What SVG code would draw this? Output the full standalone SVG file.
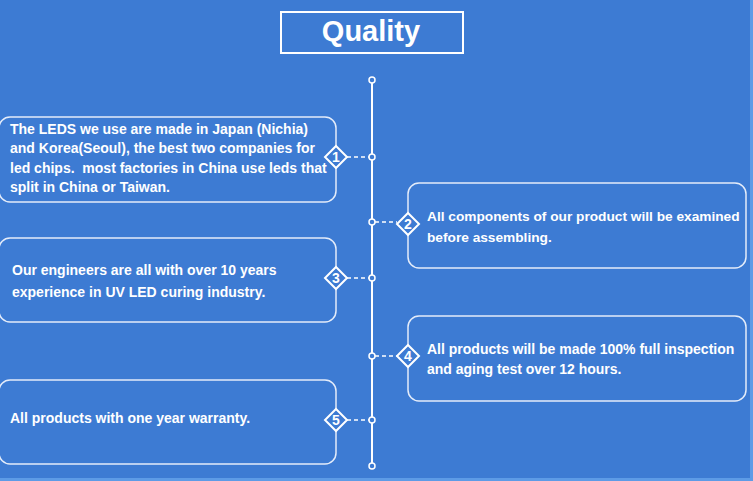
<svg xmlns="http://www.w3.org/2000/svg" width="753" height="481" viewBox="0 0 753 481">
<style>
.t{font-family:"Liberation Sans",Arial,sans-serif;font-weight:bold;fill:#fff;font-size:14px}
.box{fill:none;stroke:#e4ecfa;stroke-width:1.5}
.dm{fill:#3d7bd3;stroke:#fff;stroke-width:2}
.n{font-family:"Liberation Sans",Arial,sans-serif;font-weight:bold;fill:#fff;font-size:14px;text-anchor:middle}
.dot{fill:#3d7bd3;stroke:#fff;stroke-width:1.5}
.dash{stroke:#fff;stroke-width:1.5;stroke-dasharray:4 3}
</style>
<rect x="0" y="0" width="753" height="481" fill="#3d7bd3"/>
<rect x="0" y="478" width="753" height="3" fill="#5d9be6"/>
<rect x="750" y="0" width="3" height="481" fill="#5d9be6"/>
<g id="title">
<rect x="281" y="12" width="182" height="41" fill="none" stroke="#fff" stroke-width="2"/>
<text x="371" y="41" font-family="Liberation Sans,Arial,sans-serif" font-weight="bold" font-size="29" fill="#fff" text-anchor="middle">Quality</text>
</g>
<g id="connectors">
<line x1="372" y1="83" x2="372" y2="463" stroke="#fff" stroke-width="2"/>
<line class="dash" x1="347" y1="157" x2="369" y2="157"/>
<line class="dash" x1="375" y1="222" x2="397" y2="222"/>
<line class="dash" x1="347" y1="278" x2="369" y2="278"/>
<line class="dash" x1="375" y1="356" x2="397" y2="356"/>
<line class="dash" x1="347" y1="420" x2="369" y2="420"/>
<circle class="dot" cx="372" cy="80" r="3"/>
<circle class="dot" cx="372" cy="157" r="3"/>
<circle class="dot" cx="372" cy="222" r="3"/>
<circle class="dot" cx="372" cy="278" r="3"/>
<circle class="dot" cx="372" cy="356" r="3"/>
<circle class="dot" cx="372" cy="420" r="3"/>
<circle class="dot" cx="372" cy="466" r="3"/>
</g>
<g id="node1">
<rect class="box" x="-1" y="117" width="337" height="85" rx="11"/>
<text class="t" x="10" y="134">The LEDS we use are made in Japan (Nichia)</text>
<text class="t" x="10" y="153">and Korea(Seoul), the best two companies for</text>
<text class="t" x="10" y="173" xml:space="preserve">led chips.  most factories in China use leds that</text>
<text class="t" x="10" y="192">split in China or Taiwan.</text>
<path class="dm" d="M336 146 L347 157 L336 168 L325 157 Z"/>
<text class="n" x="336" y="162">1</text>
</g>
<g id="node2">
<rect class="box" x="408" y="183" width="338" height="85" rx="11"/>
<text class="t" x="427" y="221" style="font-size:13.7px">All components of our product will be examined</text>
<text class="t" x="427" y="242" style="font-size:13.7px">before assembling.</text>
<path class="dm" d="M408 213 L419 224 L408 235 L397 224 Z"/>
<text class="n" x="408" y="229">2</text>
</g>
<g id="node3">
<rect class="box" x="-1" y="238" width="337" height="84" rx="11"/>
<text class="t" x="12" y="275">Our engineers are all with over 10 years</text>
<text class="t" x="12" y="297">experience in UV LED curing industry.</text>
<path class="dm" d="M336 267 L347 278 L336 289 L325 278 Z"/>
<text class="n" x="336" y="283">3</text>
</g>
<g id="node4">
<rect class="box" x="408" y="316" width="338" height="85" rx="11"/>
<text class="t" x="427" y="354">All products will be made 100% full inspection</text>
<text class="t" x="427" y="374">and aging test over 12 hours.</text>
<path class="dm" d="M408 345 L419 356 L408 367 L397 356 Z"/>
<text class="n" x="408" y="361">4</text>
</g>
<g id="node5">
<rect class="box" x="-1" y="380" width="337" height="84" rx="11"/>
<text class="t" x="10" y="423">All products with one year warranty.</text>
<path class="dm" d="M336 409 L347 420 L336 431 L325 420 Z"/>
<text class="n" x="336" y="425">5</text>
</g>
</svg>
